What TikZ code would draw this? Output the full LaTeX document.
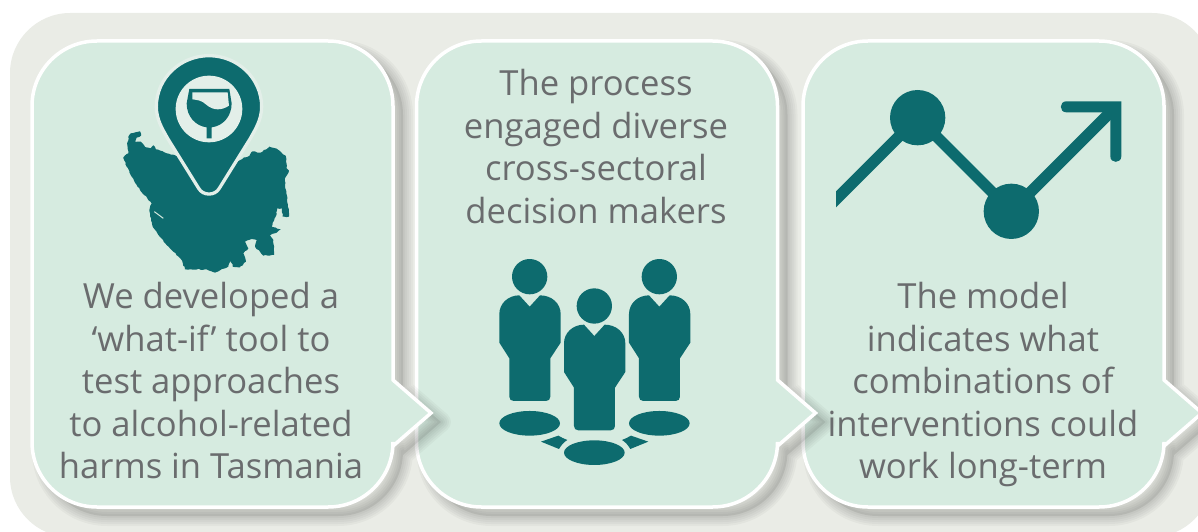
\documentclass[tikz,border=0pt]{standalone}
\usepackage{fontspec}
\usetikzlibrary{decorations.pathmorphing}
\setmainfont{Open Sans}
\definecolor{teal1}{HTML}{0D6B6E}
\definecolor{mint}{HTML}{D6EBE0}
\definecolor{bgc}{HTML}{EAECE6}
\definecolor{txt}{HTML}{6A6C6E}
\definecolor{pale}{HTML}{E3EFE9}
\tikzset{
  lbl/.style={text=txt,align=center,font=\fontsize{34.6}{42.5}\selectfont,inner sep=0pt},
  coast/.style={fill=teal1,decorate,decoration={random steps,segment length=2.2pt,amplitude=.55pt}},
}
% box outline, left edge at x=0, width 361
\def\boxpath{(65,41) -- (296,41) .. controls (332,41) and (361,70) .. (361,106)
  -- (361,380) -- (399,413) -- (361,446) -- (361,442)
  .. controls (361,478) and (332,507) .. (296,507) -- (65,507)
  .. controls (29,507) and (0,478) .. (0,442) -- (0,106)
  .. controls (0,70) and (29,41) .. (65,41) -- cycle}
\def\onebox#1{%
  \begin{scope}[xshift=#1pt+10pt,yshift=-9pt]
    \fill[black,opacity=.08] \boxpath;
    \foreach \w in {20,16,12,8,4}{\draw[black,opacity=.03,line width=\w pt,line join=round] \boxpath;}
  \end{scope}
  \begin{scope}[xshift=#1pt]
    \draw[white,fill=mint,line width=3.5pt,line join=miter] \boxpath;
  \end{scope}}
\def\personbody{(118,136) -- (149,170) -- (180,136) .. controls (215,136) and (242,160) .. (242,192)
  -- (242,278) -- (211,325) -- (211,440) .. controls (211,448) and (206,453) .. (198,453)
  -- (101,453) .. controls (93,453) and (88,448) .. (88,440) -- (88,325) -- (58,278) -- (58,192)
  .. controls (58,160) and (85,136) .. (118,136) -- cycle}
\begin{document}
\begin{tikzpicture}[x=1pt,y=-1pt]
\pgfmathsetseed{7}
\useasboundingbox (0,0) rectangle (1198,532);
\begin{scope}
\clip (0,0) rectangle (1198,532);
\fill[bgc] (70,13) -- (1152,13) .. controls (1185,13) and (1212,40) .. (1212,73) -- (1212,477) .. controls (1212,510) and (1185,537) .. (1152,537) -- (70,537) .. controls (37,537) and (10,510) .. (10,477) -- (10,73) .. controls (10,40) and (37,13) .. (70,13) -- cycle;
\onebox{803}
\onebox{416.5}
\onebox{32}
\end{scope}

% Tasmania and pin
\begin{scope}[shift={(100,40)},x=0.3333pt,y=-0.3333pt]
  \path[coast] (85,290) -- (92,280) -- (106,277) -- (120,274) -- (123,287) -- (110,293) -- (106,306) -- (122,305) -- (138,322) -- (152,325) -- (160,316) -- (168,328) -- (195,338) -- (225,346) -- (327,420) -- (432,352) -- (448,348) -- (458,334) -- (482,338) -- (508,320) -- (530,326) -- (545,338) -- (558,350) -- (560,385) -- (567,392) -- (555,415) -- (556,445) -- (562,475) -- (564,495) -- (567,530) -- (548,530) -- (546,505) -- (532,505) -- (527,530) -- (515,560) -- (542,568) -- (525,580) -- (510,586) -- (520,600) -- (522,645) -- (490,647) -- (480,635) -- (466,622) -- (470,600) -- (455,597) -- (435,605) -- (445,625) -- (430,640) -- (438,665) -- (420,682) -- (398,680) -- (393,662) -- (385,680) -- (345,698) -- (315,688) -- (255,688) -- (245,660) -- (215,630) -- (175,585) -- (158,560) -- (148,510) -- (155,490) -- (120,450) -- (95,410) -- (80,380) -- (70,352) -- (85,340) -- (82,315) -- cycle;
  \draw[mint,line width=1pt] (163,515) -- (190,535);
  \path[fill=teal1,draw=pale,line width=3.3pt,line join=round]
    (327,47) .. controls (413,47) and (485,115) .. (485,200)
    .. controls (485,240) and (465,270) .. (450,297)
    -- (358,445) .. controls (345,468) and (309,468) .. (296,445)
    -- (204,297) .. controls (189,270) and (169,240) .. (169,200)
    .. controls (169,115) and (241,47) .. (327,47) -- cycle;
  \fill[pale] (327,207) circle[radius=100];
  % glass
  \fill[teal1] (268,147) -- (388,147) -- (395,190) .. controls (395,230) and (368,258) .. (335,262)
    -- (335,295) -- (320,295) -- (320,262) .. controls (287,258) and (260,230) .. (260,190) -- cycle;
  \fill[pale] (277,157) -- (383,157) -- (387,197) .. controls (365,212) and (340,212) .. (320,195)
    .. controls (305,180) and (290,180) .. (277,178) -- cycle;
\end{scope}

% people
\begin{scope}[shift={(480,250)},x=0.3333pt,y=-0.3333pt]
  \foreach \dx/\dy in {0/0,389/0,194/88}{
    \begin{scope}[shift={(\dx*0.3333pt,\dy*-0.3333pt)}]
      \fill[teal1] (149,80) circle[radius=53];
      \fill[teal1] \personbody;
      \fill[teal1] (149,520) ellipse[x radius=91,y radius=37];
    \end{scope}}
  \fill[teal1] (183,575) -- (235,557) .. controls (243,562) and (252,566) .. (262,570)
     .. controls (252,576) and (244,585) .. (237,597) -- cycle;
  \fill[teal1] (505,575) -- (453,557) .. controls (445,562) and (436,566) .. (426,570)
     .. controls (436,576) and (444,585) .. (451,597) -- cycle;
\end{scope}

% trend chart
\begin{scope}[shift={(820,80)},x=0.3333pt,y=-0.3333pt]
  \begin{scope}
    \clip (48,0) rectangle (960,500);
    \draw[teal1,line width=11.3pt,line join=miter] (30,376) -- (293,113) -- (574,394) -- (880,88);
  \end{scope}
  \fill[teal1] (293,113) circle[radius=83];
  \fill[teal1] (574,394) circle[radius=83];
  \fill[teal1] (739,64) -- (904,64) -- (904,229) .. controls (904,251) and (871,251) .. (871,229)
    -- (871,97) -- (739,97) .. controls (717,97) and (717,64) .. (739,64) -- cycle;
\end{scope}

\node[lbl] (t1) at (211,381) {We developed a\\‘what-if’ tool to\\test approaches\\to alcohol-related\\harms in Tasmania};
\node[lbl] (t2) at (596,146.5) {The process\\engaged diverse\\cross-sectoral\\decision makers};
\node[lbl] (t3) at (983,385) {The model\\indicates what\\combinations of\\interventions could\\work long-term};
\end{tikzpicture}
\end{document}
